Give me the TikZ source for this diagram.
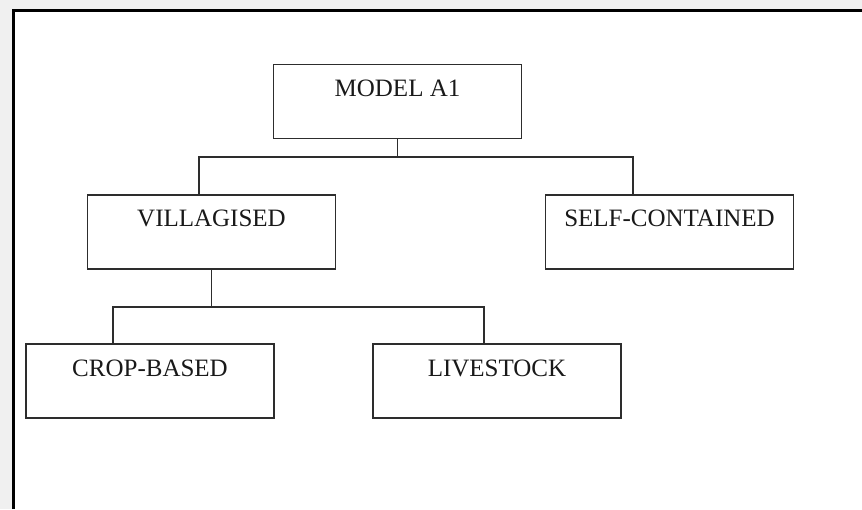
\documentclass[tikz,border=0pt]{standalone}
\usepackage{fontspec}
\setmainfont{Liberation Serif}
\definecolor{bggray}{RGB}{240,240,240}
\definecolor{boxline}{RGB}{45,45,45}
\definecolor{txt}{RGB}{25,25,25}
\begin{document}
\begin{tikzpicture}[x=1pt,y=-1pt,
  box/.style={draw=boxline,line width=1.3pt,rectangle,inner sep=0pt,minimum width=248pt,minimum height=74pt,fill=white},
  lbl/.style={anchor=base,inner sep=0pt,text=txt,font=\fontsize{25}{30}\selectfont},
  conn/.style={draw=boxline,line width=1.3pt}]
\useasboundingbox (0,0) rectangle (862,509);
\fill[bggray] (0,0) rectangle (862,509);
\fill[white] (13,10) rectangle (862,509);
\draw[black,line width=3pt] (13.3,509) -- (13.3,10) -- (862,10);

\node[box] (m) at (397.5,101.5) {};
\node[box] (v) at (211.5,232) {};
\node[box] (s) at (669.5,232) {};
\node[box] (c) at (150,381) {};
\node[box] (l) at (497,381) {};

\node[lbl] (mt) at ([yshift=-33pt]m.north) {MODEL A1};
\node[lbl] (vt) at ([yshift=-32pt]v.north) {VILLAGISED};
\node[lbl] (st) at ([yshift=-32pt]s.north) {SELF-CONTAINED};
\node[lbl] (ct) at ([yshift=-33pt]c.north) {CROP-BASED};
\node[lbl] (lt) at ([yshift=-33pt]l.north) {LIVESTOCK};

\coordinate (j1) at (398,157);
\coordinate (vtop) at (199,195);
\coordinate (stop) at (633,195);
\coordinate (j2) at (212,307);
\coordinate (ctop) at (113,344);
\coordinate (ltop) at (484,344);

\draw[conn] (m.south) -- (m.south |- j1);
\draw[conn] (vtop) -- (vtop |- j1) -- (stop |- j1) -- (stop);
\draw[conn] (v.south) -- (v.south |- j2);
\draw[conn] (ctop) -- (ctop |- j2) -- (ltop |- j2) -- (ltop);
\end{tikzpicture}
\end{document}
